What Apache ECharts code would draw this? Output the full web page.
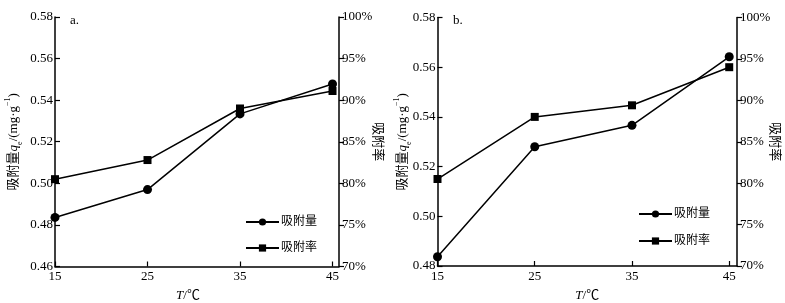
<!DOCTYPE html>
<html>
<head>
<meta charset="utf-8">
<script src="https://cdn.jsdelivr.net/npm/echarts@6/dist/echarts.min.js"></script>
<style>html,body{margin:0;padding:0;background:#fff}#c{width:785px;height:303px}</style>
</head>
<body>
<div id="c"></div>
<script>
// Data
const temps = [15, 25, 35, 45];
const qA = [0.4836, 0.497, 0.5334, 0.5478];   // 吸附量, panel a (mg/g)
const rA = [80.5, 82.8, 89.0, 91.1];          // 吸附率, panel a (%)
const qB = [0.4837, 0.528, 0.5366, 0.5642];   // 吸附量, panel b
const rB = [80.5, 88.0, 89.4, 94.0];          // 吸附率, panel b
const seriesNames = ['吸附量', '吸附率'];
const panelLabels = ['a.', 'b.'];

const FONT = "'Liberation Serif','Noto Sans CJK SC',serif";
const pairs = (xs, ys) => xs.map((x, i) => [x, ys[i]]);

const axisLineStyle = { show: true, lineStyle: { color: '#000', width: 1.5 } };

function xAxis(gridIndex, max, namePad) {
  return {
    type: 'value', gridIndex, min: 15, max, interval: 10,
    axisLine: axisLineStyle,
    axisTick: { show: true, inside: true, length: 5, lineStyle: { color: '#000', width: 1.2 } },
    axisLabel: { color: '#000', fontFamily: FONT, fontSize: 13, margin: 4, showMaxLabel: false,
      formatter: v => (temps.includes(v) ? String(v) : '') },
    splitLine: { show: false },
    name: '{i|T}/℃', nameLocation: 'middle', nameGap: 23, nameMoveOverlap: false,
    nameTextStyle: { color: '#000', fontFamily: FONT, fontSize: 13, padding: namePad,
      rich: { i: { fontStyle: 'italic', fontFamily: FONT, fontSize: 13, color: '#000' } } }
  };
}
function yLeft(gridIndex, min, gap) {
  return {
    type: 'value', gridIndex, min, max: 0.58, interval: 0.02, position: 'left',
    axisLine: axisLineStyle,
    axisTick: { show: true, inside: true, length: 5, lineStyle: { color: '#000', width: 1.2 } },
    axisLabel: { color: '#000', fontFamily: FONT, fontSize: 13, margin: 2, formatter: v => v.toFixed(2) },
    splitLine: { show: false },
    name: '{a|吸附量}{q|q}{sub|e}{a|/(mg·g}{sup|−1}{a|)}',
    nameLocation: 'middle', nameGap: gap, nameRotate: 90, nameMoveOverlap: false,
    nameTextStyle: { color: '#000', fontFamily: FONT, fontSize: 13,
      rich: {
        a: { fontFamily: FONT, fontSize: 13, color: '#000' },
        q: { fontFamily: FONT, fontSize: 13, fontStyle: 'italic', color: '#000' },
        sub: { fontFamily: FONT, fontSize: 8, color: '#000', verticalAlign: 'bottom', lineHeight: 20 },
        sup: { fontFamily: FONT, fontSize: 8, color: '#000', verticalAlign: 'top', lineHeight: 20 }
      } }
  };
}
function yRight(gridIndex, gap) {
  return {
    type: 'value', gridIndex, min: 70, max: 100, interval: 5, position: 'right',
    axisLine: axisLineStyle,
    axisTick: { show: true, inside: false, length: 5, lineStyle: { color: '#000', width: 1.2 } },
    axisLabel: { color: '#000', fontFamily: FONT, fontSize: 13, margin: 3, formatter: v => v + '%' },
    splitLine: { show: false },
    name: '吸附率', nameLocation: 'middle', nameGap: gap, nameRotate: -90, nameMoveOverlap: false,
    nameTextStyle: { color: '#000', fontFamily: FONT, fontSize: 13 }
  };
}
function series(name, xi, yi, data, symbol) {
  return {
    name, type: 'line', xAxisIndex: xi, yAxisIndex: yi, data,
    symbol, symbolSize: symbol === 'circle' ? 9 : 8,
    lineStyle: { color: '#000', width: 1.5 },
    itemStyle: { color: '#000' },
    emphasis: { disabled: true }, animation: false
  };
}
function legend(left, top, gap) {
  return {
    orient: 'vertical', left, top, padding: 0, itemWidth: 33, itemHeight: 9, itemGap: gap,
    data: seriesNames, selectedMode: false,
    textStyle: { color: '#000', fontFamily: FONT, fontSize: 12, padding: [0, 0, 0, -3] }
  };
}

const chart = echarts.init(document.getElementById('c'), null, { renderer: 'canvas' });
chart.setOption({
  animation: false,
  backgroundColor: '#fff',
  title: [
    { text: panelLabels[0], left: 65, top: 9, textStyle: { fontFamily: FONT, fontSize: 13, fontWeight: 'normal', color: '#000' } },
    { text: panelLabels[1], left: 448, top: 9, textStyle: { fontFamily: FONT, fontSize: 13, fontWeight: 'normal', color: '#000' } }
  ],
  grid: [
    { left: 55, right: 446, top: 17, bottom: 36.5, containLabel: false, outerBoundsMode: 'none' },
    { left: 437.5, right: 48, top: 17.5, bottom: 37, containLabel: false, outerBoundsMode: 'none' }
  ],
  xAxis: [xAxis(0, 45.7, [0, 18, 0, 0]), xAxis(1, 45.8, 0)],
  yAxis: [yLeft(0, 0.46, 31), yRight(0, 32), yLeft(1, 0.48, 25), yRight(1, 31)],
  legend: [legend(245, 216, 14), legend(638, 208, 15)],
  series: [
    series(seriesNames[0], 0, 0, pairs(temps, qA), 'circle'),
    series(seriesNames[1], 0, 1, pairs(temps, rA), 'rect'),
    series(seriesNames[0], 1, 2, pairs(temps, qB), 'circle'),
    series(seriesNames[1], 1, 3, pairs(temps, rB), 'rect')
  ]
});
</script>
</body>
</html>
